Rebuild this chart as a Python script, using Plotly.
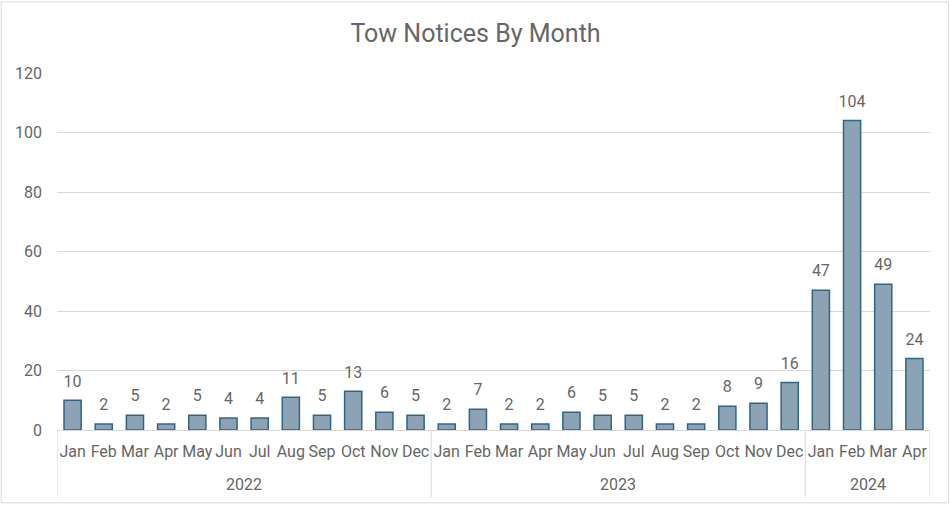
import plotly.graph_objects as go

years = ["2022"] * 12 + ["2023"] * 12 + ["2024"] * 4
months = ["Jan", "Feb", "Mar", "Apr", "May", "Jun", "Jul", "Aug", "Sep", "Oct", "Nov", "Dec"] * 2 + ["Jan", "Feb", "Mar", "Apr"]
notices = [10, 2, 5, 2, 5, 4, 4, 11, 5, 13, 6, 5,
           2, 7, 2, 2, 6, 5, 5, 2, 2, 8, 9, 16,
           47, 104, 49, 24]

FONT = "Roboto, Open Sans, sans-serif"
GRAY = "#666666"
LINE = "#d9d9d9"

idx = list(range(len(notices)))

fig = go.Figure()
fig.add_trace(go.Bar(
    x=idx, y=notices,
    marker=dict(color="#8ca2b5", line=dict(color="#2f6688", width=1.5)),
    hoverinfo="x+y",
))
# data labels, a little above each bar
fig.add_trace(go.Scatter(
    x=idx, y=notices, mode="markers+text",
    marker=dict(size=14, opacity=0),
    text=[str(v) for v in notices], textposition="top center",
    textfont=dict(family=FONT, size=16, color=GRAY),
    cliponaxis=False, hoverinfo="skip",
))

# year group labels and dividers derived from the data
groups = []
for i, y in enumerate(years):
    if not groups or groups[-1][0] != y:
        groups.append([y, i, i])
    else:
        groups[-1][2] = i

annotations = []
shapes = [dict(type="rect", xref="paper", yref="paper", x0=-0.064, x1=1.021, y0=-0.204, y1=1.199,
               line=dict(color=LINE, width=1), layer="below")]
for name, start, end in groups:
    annotations.append(dict(x=(start + end) / 2, y=-0.154, xref="x", yref="paper", text=name,
                            showarrow=False, yanchor="middle",
                            font=dict(family=FONT, size=16, color=GRAY)))
    shapes.append(dict(type="line", xref="x", yref="paper", x0=start - 0.5, x1=start - 0.5,
                       y0=0, y1=-0.188, line=dict(color=LINE, width=1)))
shapes.append(dict(type="line", xref="x", yref="paper", x0=len(notices) - 0.5, x1=len(notices) - 0.5,
                   y0=0, y1=-0.188, line=dict(color=LINE, width=1)))

fig.update_layout(
    width=951, height=506,
    paper_bgcolor="white", plot_bgcolor="white",
    margin=dict(l=57, r=21, t=73, b=76),
    bargap=0.45,
    showlegend=False,
    title=dict(text="Tow Notices By Month", x=0.5, xanchor="center", y=0.935, yanchor="middle",
               font=dict(family=FONT, size=25, color=GRAY)),
    font=dict(family=FONT, color=GRAY),
    shapes=shapes,
    annotations=annotations,
)
fig.update_yaxes(range=[0, 120], dtick=20, gridcolor=LINE, gridwidth=1,
                 tickfont=dict(family=FONT, size=16, color=GRAY), zeroline=False,
                 showline=False, ticks="", ticklabelstandoff=14, automargin=False)
fig.update_xaxes(range=[-0.5, len(notices) - 0.5], tickvals=idx, ticktext=months,
                 showline=True, linecolor=LINE, linewidth=1, showgrid=False, zeroline=False,
                 tickangle=0, automargin=False, ticklabelstandoff=7,
                 tickfont=dict(family=FONT, size=16, color=GRAY), ticks="")

fig.write_html("out.html", post_script="document.body.style.margin='0';",
               config={"displayModeBar": False})
